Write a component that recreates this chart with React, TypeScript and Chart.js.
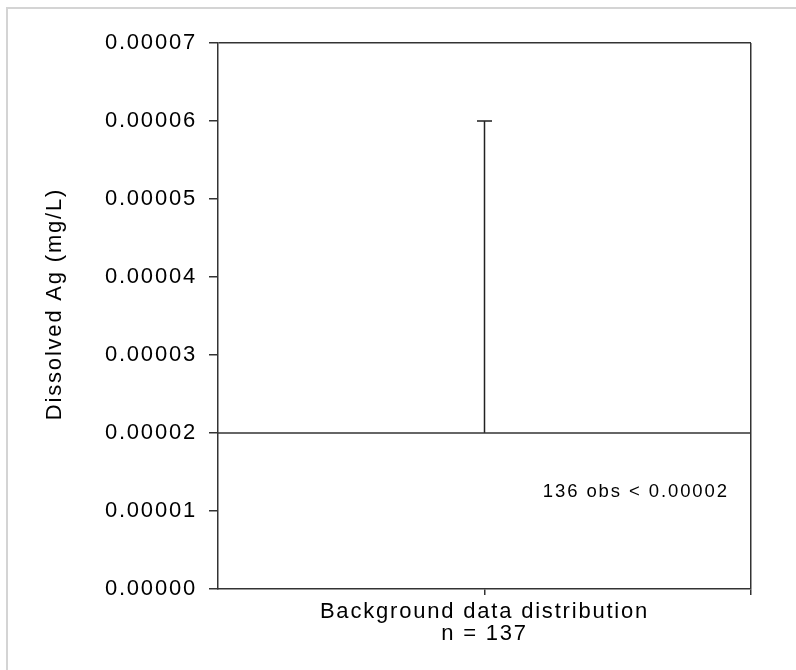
import React, { useEffect, useRef } from 'react';
import { Chart, registerables } from 'chart.js';

Chart.register(...registerables);

// ---- data ----
const categories = ['Background data distribution'];
const sampleCounts = [137];
const detectionLimits = [0.00002];
const whiskerTops = [0.00006];
const belowLimitCounts = [136];
const yTickValues = [0, 0.00001, 0.00002, 0.00003, 0.00004, 0.00005, 0.00006, 0.00007];
const yAxisTitle = 'Dissolved Ag (mg/L)';

// ---- axis ranges / styling ----
const Y_MIN = 0;
const Y_MAX = 0.00007;
const X_MIN = 0;
const X_MAX = 2;
const X_CAT = 1;
const NOTE_X = 1.568;
const NOTE_Y = 0.0000125;
const FONT = '"Liberation Sans", Arial, sans-serif';
const LINE = '#333333';
const TEXT = '#000000';
const CLEAR = 'rgba(0,0,0,0)';
const SPACING = '1.8px';

const spacingPlugin = {
  id: 'letterSpacing',
  beforeUpdate(chart: any) { chart.ctx.letterSpacing = SPACING; },
  beforeLayout(chart: any) { chart.ctx.letterSpacing = SPACING; },
  beforeDraw(chart: any) { chart.ctx.letterSpacing = SPACING; },
};

const textPlugin = {
  id: 'extraText',
  afterDatasetsDraw(chart: any) {
    const { ctx, scales, chartArea } = chart;
    const x = scales.x;
    const y = scales.y;
    ctx.save();
    ctx.font = `18.5px ${FONT}`;
    ctx.letterSpacing = '1.9px';
    ctx.fillStyle = TEXT;
    ctx.textAlign = 'center';
    ctx.textBaseline = 'middle';
    ctx.fillText(
      `${belowLimitCounts[0]} obs < ${detectionLimits[0].toFixed(5)}`,
      x.getPixelForValue(NOTE_X),
      y.getPixelForValue(NOTE_Y)
    );
    ctx.restore();

    // y-axis title (drawn slightly above the plot centre, as in the original)
    ctx.save();
    ctx.font = `22px ${FONT}`;
    ctx.letterSpacing = SPACING;
    ctx.fillStyle = TEXT;
    ctx.textAlign = 'center';
    ctx.textBaseline = 'middle';
    ctx.translate(55, (chartArea.top + chartArea.bottom) / 2 - 12);
    ctx.rotate(-Math.PI / 2);
    ctx.fillText(yAxisTitle, 0, 0);
    ctx.restore();
  },
};

export default function App() {
  const ref = useRef<HTMLCanvasElement>(null);

  useEffect(() => {
    if (!ref.current) return;
    const chart = new Chart(ref.current, {
      type: 'scatter',
      data: {
        datasets: [
          {
            label: 'Detection limit',
            data: [
              { x: X_MIN, y: detectionLimits[0] },
              { x: X_MAX, y: detectionLimits[0] },
            ],
            showLine: true,
            borderColor: LINE,
            borderWidth: 1.5,
            pointRadius: 0,
            xAxisID: 'x',
            yAxisID: 'y',
          },
          {
            label: 'Whisker',
            data: [
              { x: X_CAT, y: detectionLimits[0] },
              { x: X_CAT, y: whiskerTops[0] },
            ],
            showLine: true,
            borderColor: '#222222',
            borderWidth: 1.5,
            pointRadius: 0,
            xAxisID: 'x',
            yAxisID: 'y',
          },
          {
            label: 'Whisker cap',
            data: [{ x: X_CAT, y: whiskerTops[0] }],
            showLine: false,
            pointStyle: 'line',
            pointRadius: 7.5,
            pointBorderWidth: 2,
            pointBorderColor: '#555555',
            pointBackgroundColor: '#555555',
            xAxisID: 'x',
            yAxisID: 'y',
          },
        ],
      },
      options: {
        animation: false,
        responsive: false,
        devicePixelRatio: 1,
        layout: { padding: { top: 43, right: 45, bottom: 0, left: 0 } },
        plugins: {
          legend: { display: false },
          tooltip: { enabled: false },
        },
        scales: {
          x: {
            type: 'linear',
            min: X_MIN,
            max: X_MAX,
            afterFit: (s: any) => { s.height = 81; },
            ticks: {
              stepSize: 1,
              autoSkip: false,
              maxRotation: 0,
              minRotation: 0,
              padding: 6,
              color: TEXT,
              font: { family: FONT, size: 22, lineHeight: 1.0 },
              callback: (v: any) =>
                Number(v) === X_CAT ? [categories[0], `n = ${sampleCounts[0]}`] : '',
            },
            grid: {
              drawOnChartArea: true,
              lineWidth: 1.5,
              tickLength: 6,
              color: (c: any) => (c.tick && c.tick.value === X_MAX ? LINE : CLEAR),
              tickColor: (c: any) => (c.tick && c.tick.value === X_MIN ? CLEAR : LINE),
            },
            border: { display: true, color: LINE, width: 1.5 },
          },
          y: {
            type: 'linear',
            min: Y_MIN,
            max: Y_MAX,
            afterFit: (s: any) => { s.width = 218; },
            afterBuildTicks: (s: any) => {
              s.ticks = yTickValues.map((v) => ({ value: v }));
            },
            ticks: {
              padding: 12,
              color: TEXT,
              font: { family: FONT, size: 22 },
              callback: (v: any) => Number(v).toFixed(5),
            },
            grid: {
              drawOnChartArea: true,
              lineWidth: 1.5,
              tickLength: 9,
              color: (c: any) =>
                c.tick && Math.abs(c.tick.value - Y_MAX) < 1e-12 ? LINE : CLEAR,
              tickColor: LINE,
            },
            border: { display: true, color: LINE, width: 1.5 },
            title: { display: false, text: yAxisTitle },
          },
        },
      },
      plugins: [spacingPlugin, textPlugin],
    } as any);
    return () => chart.destroy();
  }, []);

  return (
    <div
      style={{
        position: 'absolute',
        left: 0,
        top: 0,
        width: 796,
        height: 670,
        background: '#ffffff',
        overflow: 'hidden',
      }}
    >
      <div
        style={{
          position: 'absolute',
          left: 6,
          top: 7,
          width: 900,
          height: 900,
          borderLeft: '2px solid #d4d4d4',
          borderTop: '2px solid #d4d4d4',
        }}
      />
      <canvas
        ref={ref}
        width={796}
        height={670}
        style={{ position: 'absolute', left: 0, top: 0, width: 796, height: 670 }}
      />
    </div>
  );
}
